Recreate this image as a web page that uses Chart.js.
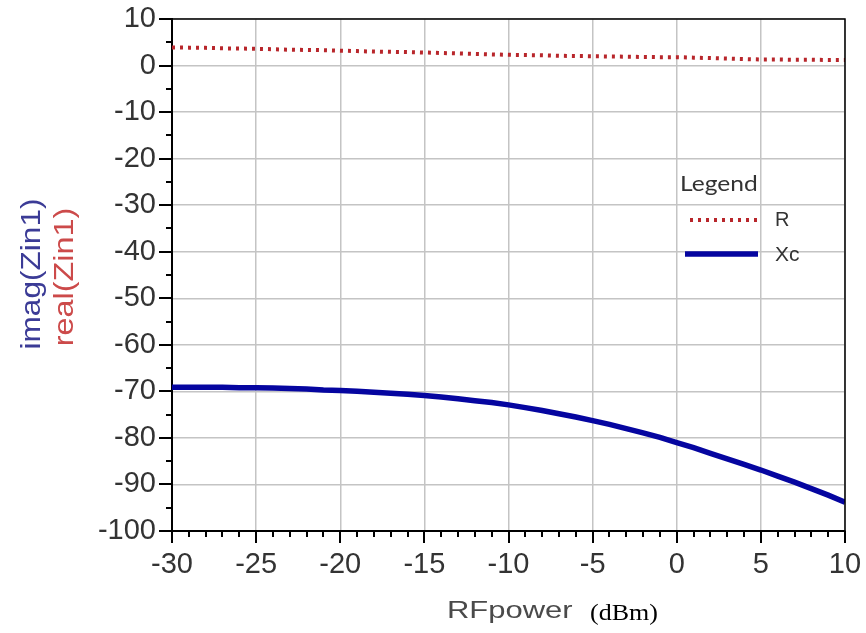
<!DOCTYPE html>
<html>
<head>
<meta charset="utf-8">
<script src="https://cdn.jsdelivr.net/npm/chart.js@4.4.0/dist/chart.umd.min.js"></script>
<style>
html,body{margin:0;padding:0;background:#fff;}
#wrap{width:866px;height:633px;}
</style>
</head>
<body>
<div id="wrap"><canvas id="c" width="866" height="633"></canvas></div>
<script>
// ---- data ----
const rfPower = [-30,-29,-28,-27,-26,-25,-24,-23,-22,-21,-20,-19,-18,-17,-16,-15,-14,-13,-12,-11,-10,-9,-8,-7,-6,-5,-4,-3,-2,-1,0,1,2,3,4,5,6,7,8,9,10];
const realZin = [3.9,3.85,3.8,3.7,3.65,3.6,3.5,3.4,3.35,3.3,3.2,3.1,3.0,2.95,2.9,2.8,2.7,2.6,2.5,2.4,2.3,2.25,2.2,2.1,2.05,2.0,1.95,1.9,1.85,1.8,1.8,1.7,1.6,1.5,1.4,1.3,1.3,1.25,1.25,1.2,1.2];
const imagZin = [-69.1,-69.1,-69.1,-69.1,-69.2,-69.2,-69.3,-69.4,-69.5,-69.7,-69.8,-70.0,-70.2,-70.4,-70.6,-70.9,-71.2,-71.6,-72.0,-72.4,-72.9,-73.5,-74.1,-74.8,-75.5,-76.3,-77.1,-78.0,-78.9,-79.9,-81.0,-82.1,-83.3,-84.5,-85.7,-86.9,-88.2,-89.5,-90.9,-92.3,-93.8];
const seriesNames = ['R','Xc'];
const xTickLabels = ['-30','-25','-20','-15','-10','-5','0','5','10'];
const yTickLabels = ['10','0','-10','-20','-30','-40','-50','-60','-70','-80','-90','-100'];
const xTitle = 'RFpower';
const xUnit = '(dBm)';
const yTitleImag = 'imag(Zin1)';
const yTitleReal = 'real(Zin1)';
const legendTitle = 'Legend';

const RED = '#b8262b';
const BLUE = '#0505a0';

function drawText(ctx, text, x, y, font, color, sx, align){
  ctx.save();
  ctx.font = font;
  ctx.fillStyle = color;
  ctx.textBaseline = 'alphabetic';
  ctx.textAlign = align || 'left';
  ctx.translate(x, y);
  ctx.scale(sx, 1);
  ctx.fillText(text, 0, 0);
  ctx.restore();
}

const decor = {
  id: 'decor',
  afterDraw(chart){
    const ctx = chart.ctx;
    const ca = chart.chartArea;
    const xs = chart.scales.x, ys = chart.scales.y;
    ctx.save();
    // top & right frame
    ctx.strokeStyle = '#000';
    ctx.lineWidth = 1.5;
    ctx.beginPath();
    ctx.moveTo(ca.left, ca.top);
    ctx.lineTo(ca.right, ca.top);
    ctx.lineTo(ca.right, ca.bottom);
    ctx.stroke();
    // ticks
    ctx.lineWidth = 2;
    ctx.beginPath();
    for (let v = -100; v <= 10; v += 5){
      const py = Math.round(ys.getPixelForValue(v));
      const len = (v % 10 === 0) ? 13 : 6;
      ctx.moveTo(ca.left - len, py);
      ctx.lineTo(ca.left, py);
    }
    for (let v = -30; v <= 10; v += 1){
      const px = Math.round(xs.getPixelForValue(v));
      const len = (v % 5 === 0) ? 12 : 6;
      ctx.moveTo(px, ca.bottom);
      ctx.lineTo(px, ca.bottom + len);
    }
    ctx.stroke();
    ctx.restore();

    // axis titles
    drawText(ctx, xTitle, 447, 618, '24px "Liberation Sans", Arial, sans-serif', '#4a4a4a', 1.29);
    drawText(ctx, xUnit, 590, 620, '23px "Liberation Serif", "Times New Roman", serif', '#000', 1.13);

    ctx.save();
    ctx.translate(40, 274);
    ctx.rotate(-Math.PI/2);
    drawText(ctx, yTitleImag, 0, 0, '27px "Liberation Sans", Arial, sans-serif', '#3b3b96', 1.17, 'center');
    ctx.restore();
    ctx.save();
    ctx.translate(73, 277);
    ctx.rotate(-Math.PI/2);
    drawText(ctx, yTitleReal, 0, 0, '27px "Liberation Sans", Arial, sans-serif', '#cc4a4a', 1.2, 'center');
    ctx.restore();

    // legend
    drawText(ctx, legendTitle, 680, 191, '21px Lato, "Open Sans", sans-serif', '#333', 1.17);
    ctx.save();
    ctx.strokeStyle = RED;
    ctx.lineWidth = 4;
    ctx.setLineDash([3,5]);
    ctx.beginPath();
    ctx.moveTo(690, 220); ctx.lineTo(757, 220);
    ctx.stroke();
    ctx.setLineDash([]);
    ctx.strokeStyle = BLUE;
    ctx.lineWidth = 5.5;
    ctx.beginPath();
    ctx.moveTo(685, 254); ctx.lineTo(758, 254);
    ctx.stroke();
    ctx.restore();
    drawText(ctx, seriesNames[0], 775, 226, '20px "Liberation Sans", Arial, sans-serif', '#333', 1.0);
    drawText(ctx, seriesNames[1], 775, 261, '20px "Liberation Sans", Arial, sans-serif', '#333', 1.05);
  }
};

function zeroPad(s){ s.paddingLeft = 0; s.paddingRight = 0; s.paddingTop = 0; s.paddingBottom = 0; }

new Chart(document.getElementById('c'), {
  type: 'line',
  data: {
    datasets: [
      {
        label: seriesNames[0],
        data: rfPower.map((x,i)=>({x, y: realZin[i]})),
        borderColor: RED,
        borderWidth: 4,
        borderDash: [3,5],
        pointRadius: 0,
        tension: 0
      },
      {
        label: seriesNames[1],
        data: rfPower.map((x,i)=>({x, y: imagZin[i]})),
        borderColor: BLUE,
        borderWidth: 5.5,
        pointRadius: 0,
        tension: 0
      }
    ]
  },
  options: {
    responsive: false,
    animation: false,
    devicePixelRatio: 1,
    layout: { padding: { left: 0, top: 19, right: 21, bottom: 0 } },
    plugins: { legend: { display: false }, tooltip: { enabled: false } },
    scales: {
      x: {
        type: 'linear', min: -30, max: 10,
        afterBuildTicks(s){ s.ticks = xTickLabels.map(t => ({ value: Number(t) })); },
        afterFit(s){ s.height = 102; zeroPad(s); },
        ticks: {
          padding: 17,
          font: { family: '"Liberation Sans", Arial, sans-serif', size: 29 },
          color: '#333',
          maxRotation: 0,
          callback: (v) => String(v)
        },
        grid: { color: '#c4c4c4', lineWidth: 1.5, drawTicks: false },
        border: { color: '#000', width: 2 }
      },
      y: {
        type: 'linear', min: -100, max: 10,
        afterBuildTicks(s){ s.ticks = yTickLabels.map(t => ({ value: Number(t) })); },
        afterFit(s){ s.width = 172; zeroPad(s); },
        ticks: {
          padding: 16,
          font: { family: '"Liberation Sans", Arial, sans-serif', size: 29 },
          color: '#333',
          callback: (v) => String(v)
        },
        grid: { color: '#c4c4c4', lineWidth: 1.5, drawTicks: false },
        border: { color: '#000', width: 2 }
      }
    }
  },
  plugins: [decor]
});
</script>
</body>
</html>
